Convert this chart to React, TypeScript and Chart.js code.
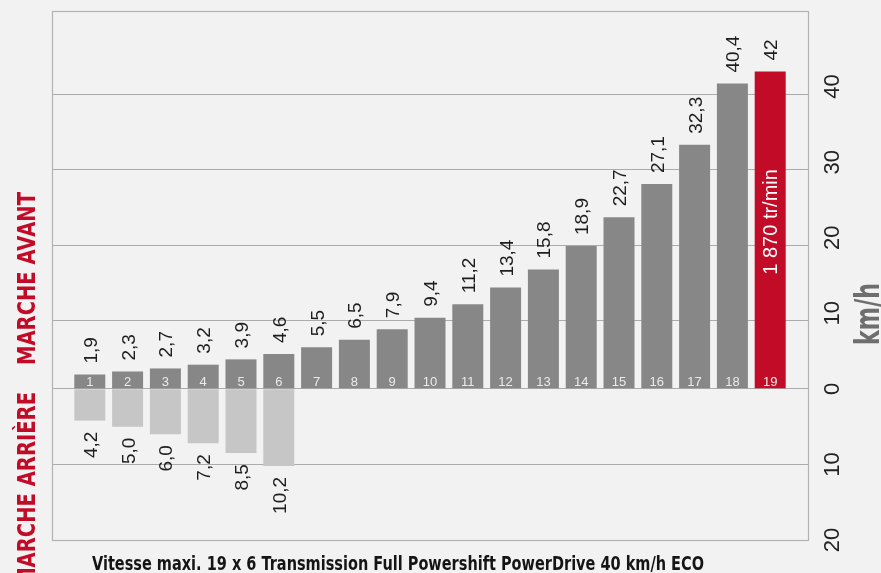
import React, { useEffect, useRef } from 'react';
import { Chart, registerables } from 'chart.js';

Chart.register(...registerables);

// ---- data ----
const gears = [1, 2, 3, 4, 5, 6, 7, 8, 9, 10, 11, 12, 13, 14, 15, 16, 17, 18, 19];
const forwardSpeeds = [1.9, 2.3, 2.7, 3.2, 3.9, 4.6, 5.5, 6.5, 7.9, 9.4, 11.2, 13.4, 15.8, 18.9, 22.7, 27.1, 32.3, 40.4, 42];
const forwardLabels = ['1,9', '2,3', '2,7', '3,2', '3,9', '4,6', '5,5', '6,5', '7,9', '9,4', '11,2', '13,4', '15,8', '18,9', '22,7', '27,1', '32,3', '40,4', '42'];
const reverseGears = [1, 2, 3, 4, 5, 6];
const reverseSpeeds = [4.2, 5.0, 6.0, 7.2, 8.5, 10.2];
const reverseLabels = ['4,2', '5,0', '6,0', '7,2', '8,5', '10,2'];
const axisTicks = [-20, -10, 0, 10, 20, 30, 40];
const axisTickLabels = ['20', '10', '0', '10', '20', '30', '40'];
const gridValues = [-20, -10, 0, 9, 19, 29, 39, 50];
const highlightGear = 19;
const rpmNote = '1 870 tr/min';
const unitLabel = 'km/h';
const forwardTitle = 'MARCHE AVANT';
const reverseTitle = 'MARCHE ARRIÈRE';
const bottomTitle = 'Vitesse maxi. 19 x 6 Transmission Full Powershift PowerDrive 40 km/h ECO';

const DARK = '#878787';
const RED = '#c20b26';
const LIGHT = '#c6c6c6';
const BG = '#f2f2f2';

function drawRot(
  ctx: CanvasRenderingContext2D,
  text: string,
  x: number,
  y: number,
  font: string,
  color: string,
  align: CanvasTextAlign,
  sx = 1
) {
  ctx.save();
  ctx.font = font;
  ctx.translate(x, y);
  ctx.rotate(-Math.PI / 2);
  ctx.scale(sx, 1);
  ctx.fillStyle = color;
  ctx.textAlign = align;
  ctx.textBaseline = 'alphabetic';
  ctx.fillText(text, 0, 0);
  ctx.restore();
}

const decorPlugin = {
  id: 'decor',
  beforeDatasetsDraw(chart: any) {
    const { ctx, chartArea } = chart;
    ctx.save();
    ctx.strokeStyle = '#b2b2b2';
    ctx.lineWidth = 1.2;
    ctx.strokeRect(chartArea.left + 0.5, chartArea.top + 0.5, chartArea.right - chartArea.left, chartArea.bottom - chartArea.top);
    ctx.restore();
  },
  afterDatasetsDraw(chart: any) {
    const { ctx } = chart;
    const yScale = chart.scales.y;
    const fwd = chart.getDatasetMeta(0).data;
    const rev = chart.getDatasetMeta(1).data;
    const valueFont = "19px 'Liberation Sans', Arial, sans-serif";

    fwd.forEach((bar: any, i: number) => {
      drawRot(ctx, forwardLabels[i], bar.x + 7, bar.y - 11, valueFont, '#1e1e1e', 'left');
      ctx.save();
      ctx.font = "13px 'Liberation Sans', Arial, sans-serif";
      ctx.fillStyle = '#ebebeb';
      ctx.textAlign = 'center';
      ctx.textBaseline = 'alphabetic';
      ctx.fillText(String(gears[i]), bar.x, bar.base - 2);
      ctx.restore();
      if (gears[i] === highlightGear) {
        const mid = (bar.y + bar.base) / 2 - 8;
        drawRot(ctx, rpmNote, bar.x + 7, mid, "20px 'Liberation Sans', Arial, sans-serif", '#ffffff', 'center');
      }
    });

    rev.forEach((bar: any, i: number) => {
      drawRot(ctx, reverseLabels[i], bar.x + 7, bar.y + 11, valueFont, '#1e1e1e', 'right');
    });

    axisTicks.forEach((v, i) => {
      const y = yScale.getPixelForValue(v);
      drawRot(ctx, axisTickLabels[i], 839, y, "22px 'Liberation Sans', Arial, sans-serif", '#222222', 'center');
    });

    ctx.save();
    const unitFont = "bold 33px 'DejaVu Sans', sans-serif";
    ctx.font = unitFont;
    const uw = ctx.measureText(unitLabel).width;
    ctx.restore();
    drawRot(ctx, unitLabel, 879, 314, unitFont, '#6e6e6e', 'center', 62 / uw);

    const sideFont = "bold 25px 'DejaVu Sans', sans-serif";
    ctx.save();
    ctx.font = sideFont;
    const aw = ctx.measureText(forwardTitle).width;
    ctx.restore();
    const ssx = 173 / aw;
    drawRot(ctx, forwardTitle, 35, 365, sideFont, RED, 'left', ssx);
    drawRot(ctx, reverseTitle, 35, 392, sideFont, RED, 'right', ssx);

    ctx.save();
    const tFont = "bold 19px 'DejaVu Sans', sans-serif";
    ctx.font = tFont;
    const tw = ctx.measureText(bottomTitle).width;
    ctx.translate(92, 570);
    ctx.scale(612 / tw, 1);
    ctx.fillStyle = '#151515';
    ctx.textAlign = 'left';
    ctx.textBaseline = 'alphabetic';
    ctx.fillText(bottomTitle, 0, 0);
    ctx.restore();
  },
};

export default function App() {
  const canvasRef = useRef<HTMLCanvasElement | null>(null);

  useEffect(() => {
    const canvas = canvasRef.current;
    if (!canvas) return;
    const chart = new Chart(canvas, {
      type: 'bar',
      data: {
        datasets: [
          {
            data: forwardSpeeds.map((v, i) => ({ x: gears[i], y: v })),
            backgroundColor: gears.map((g) => (g === highlightGear ? RED : DARK)),
            grouped: false,
            barPercentage: 0.82,
            categoryPercentage: 1,
          } as any,
          {
            data: reverseSpeeds.map((v, i) => ({ x: reverseGears[i], y: -v })),
            backgroundColor: LIGHT,
            grouped: false,
            barPercentage: 0.82,
            categoryPercentage: 1,
          } as any,
        ],
      },
      options: {
        animation: false,
        responsive: false,
        maintainAspectRatio: false,
        layout: { padding: { left: 52, right: 73, top: 11, bottom: 33 } },
        plugins: {
          legend: { display: false },
          tooltip: { enabled: false },
          title: { display: false },
        },
        scales: {
          x: {
            type: 'linear',
            min: 0,
            max: 20,
            offset: false,
            display: false,
            ticks: { stepSize: 1 },
          },
          y: {
            min: -20,
            max: 50,
            display: true,
            ticks: { display: false },
            grid: { color: '#ababab', lineWidth: 1, drawTicks: false },
            border: { display: false },
            afterBuildTicks: (s: any) => {
              s.ticks = gridValues.map((v) => ({ value: v }));
            },
          },
        },
      } as any,
      plugins: [decorPlugin],
    });
    return () => chart.destroy();
  }, []);

  return (
    <div style={{ position: 'fixed', left: 0, top: 0, width: 881, height: 573, background: BG, overflow: 'hidden' }}>
      <canvas ref={canvasRef} width={881} height={573} style={{ display: 'block' }} />
    </div>
  );
}
